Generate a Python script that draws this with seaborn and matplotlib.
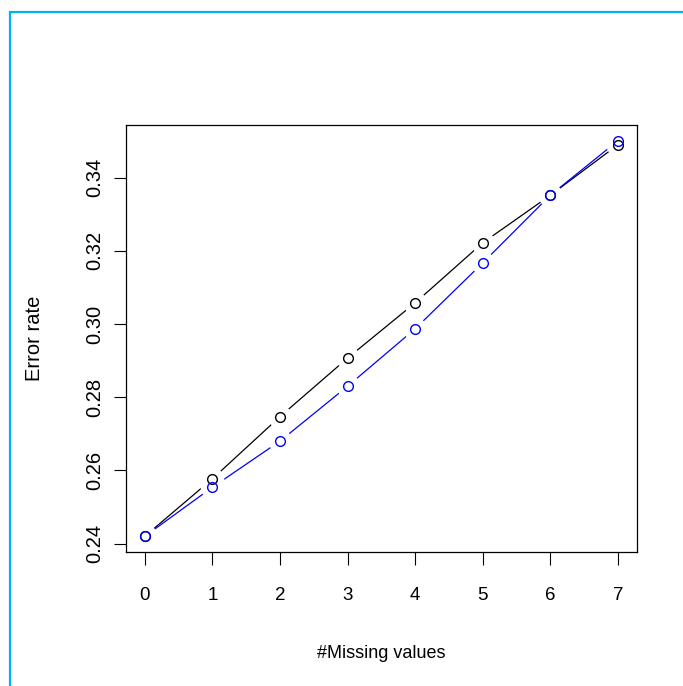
import pandas as pd
import matplotlib
matplotlib.use("Agg")
import matplotlib.pyplot as plt
import matplotlib.patches as mpatches
import seaborn as sns

# Datos
missing_values = [0, 1, 2, 3, 4, 5, 6, 7]
error_black = [0.2420, 0.2577, 0.2747, 0.2907, 0.3058, 0.3222, 0.3352, 0.3490]
error_blue = [0.2420, 0.2554, 0.2680, 0.2830, 0.2987, 0.3167, 0.3352, 0.3501]
series_names = ["A", "B"]
series_colors = {"A": "black", "B": "blue"}

df = pd.concat([
    pd.DataFrame({"x": missing_values, "y": error_black, "serie": "A"}),
    pd.DataFrame({"x": missing_values, "y": error_blue, "serie": "B"}),
])

sns.set_style("ticks")
plt.rcParams["font.family"] = ["Liberation Sans", "DejaVu Sans"]
plt.rcParams["text.color"] = "black"
plt.rcParams["axes.labelcolor"] = "black"

fig = plt.figure(figsize=(6.83, 6.86), dpi=100)
ax = fig.add_axes([126 / 683, 1 - 552 / 686, (636.7 - 126) / 683, (552 - 125) / 686])

# lineas
for s in series_names:
    sub = df[df["serie"] == s]
    sns.lineplot(data=sub, x="x", y="y", color=series_colors[s], linewidth=0.9,
                 ax=ax, legend=False, zorder=1)
# huecos blancos alrededor de los puntos (estilo type="b")
for s in series_names:
    sub = df[df["serie"] == s]
    ax.plot(sub["x"], sub["y"], linestyle="none", marker="o", markersize=16,
            markerfacecolor="white", markeredgecolor="white", zorder=2)
# circulos
for s in series_names:
    sub = df[df["serie"] == s]
    ax.plot(sub["x"], sub["y"], linestyle="none", marker="o", markersize=7,
            markerfacecolor="none", markeredgecolor=series_colors[s],
            markeredgewidth=1.0, zorder=3)

ax.set_xlim(-0.28, 7.28)
ax.set_ylim(0.23768, 0.35443)
ax.set_xticks(missing_values)
ax.set_yticks([0.24, 0.26, 0.28, 0.30, 0.32, 0.34])
ax.set_yticklabels(["0.24", "0.26", "0.28", "0.30", "0.32", "0.34"],
                   rotation=90, va="center")
ax.tick_params(axis="x", length=9, width=0.8, pad=16, labelsize=13.5, colors="black")
ax.tick_params(axis="y", length=9, width=0.8, pad=7, labelsize=14.5, colors="black")

for sp in ax.spines.values():
    sp.set_visible(True)
    sp.set_linewidth(0.9)
    sp.set_color("black")

ax.set_xlabel("#Missing values", fontsize=13, va="center", color="black")
ax.set_ylabel("Error rate", fontsize=14.5, va="center", color="black")
ax.xaxis.set_label_coords(0.5, (552 - 653) / 427)
ax.yaxis.set_label_coords((34 - 126) / 510.7, 0.5)

# borde cian de la imagen
borde = mpatches.Rectangle((10 / 683, -0.1), 1.2, 1 - 12 / 686 + 0.1,
                           transform=fig.transFigure, fill=False,
                           edgecolor="#00B0F0", linewidth=1.6, clip_on=False)
fig.add_artist(borde)

fig.savefig("out.png", dpi=100)
